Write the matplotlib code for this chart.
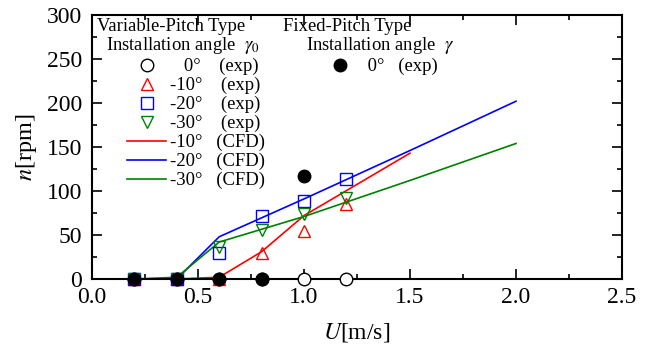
import matplotlib
matplotlib.use("Agg")
import matplotlib.pyplot as plt
from matplotlib.ticker import MultipleLocator

plt.rcParams['font.family'] = ['Liberation Serif', 'DejaVu Serif']
plt.rcParams['mathtext.fontset'] = 'stix'

# experiment, variable-pitch type (installation angle gamma_0)
U_exp = [0.2, 0.4, 0.6, 0.8, 1.0, 1.2]
n_exp_0 = [0, 0, 0, 0, 0, 0]
n_exp_10 = [0, 0, 0, 30, 54, 85]
n_exp_20 = [0, 0, 29, 72, 89, 114]
n_exp_30 = [0, 0, 36, 56, 74, 92]

# experiment, fixed-pitch type (gamma = 0)
U_fix = [0.2, 0.4, 0.6, 0.8, 1.0]
n_fix_0 = [0, 0, 0, 0, 117]

# CFD results
U_cfd_10 = [0.2, 0.4, 0.6, 0.8, 1.0, 1.5]
n_cfd_10 = [0, 0, 2, 31, 72, 143]
U_cfd_20 = [0.2, 0.4, 0.6, 1.0, 1.5, 2.0]
n_cfd_20 = [0, 0, 48, 91, 146, 202]
U_cfd_30 = [0.2, 0.4, 0.6, 1.0, 1.5, 2.0]
n_cfd_30 = [0, 2, 42, 71, 112, 154]

deg_labels = ["0\u00b0", "-10\u00b0", "-20\u00b0", "-30\u00b0"]

fig = plt.figure(figsize=(6.52, 3.51), dpi=100)
ax = fig.add_axes([92/652, 1-279/351, 530/652, 264/351])

red, blue, green = '#ff0000', '#0000ff', '#008000'
lw = 1.2
ms = 9

# CFD lines
l10, = ax.plot(U_cfd_10, n_cfd_10, color=red, lw=lw, zorder=2)
l20, = ax.plot(U_cfd_20, n_cfd_20, color=blue, lw=lw, zorder=2)
l30, = ax.plot(U_cfd_30, n_cfd_30, color=green, lw=lw, zorder=2)

# experiment markers
p0, = ax.plot(U_exp, n_exp_0, 'o', ms=ms, mfc='white', mec='black', mew=1.0, ls='none', clip_on=False, zorder=3)
p10, = ax.plot(U_exp, n_exp_10, '^', ms=ms, mfc='none', mec=red, mew=1.0, ls='none', clip_on=False, zorder=3)
p20, = ax.plot(U_exp, n_exp_20, 's', ms=8, mfc='none', mec=blue, mew=1.0, ls='none', clip_on=False, zorder=3)
p30, = ax.plot(U_exp, n_exp_30, 'v', ms=ms, mfc='none', mec=green, mew=1.0, ls='none', clip_on=False, zorder=3)
pf, = ax.plot(U_fix, n_fix_0, 'o', ms=ms, mfc='black', mec='black', ls='none', clip_on=False, zorder=4)

ax.set_xlim(0, 2.5)
ax.set_ylim(0, 300)
ax.xaxis.set_major_locator(MultipleLocator(0.5))
ax.xaxis.set_minor_locator(MultipleLocator(0.25))
ax.yaxis.set_major_locator(MultipleLocator(50))
ax.yaxis.set_minor_locator(MultipleLocator(25))
ax.xaxis.set_major_formatter(matplotlib.ticker.FormatStrFormatter('%.1f'))
ax.tick_params(which='both', direction='in', top=True, right=True, width=1.2, labelsize=17)
ax.tick_params(which='major', length=7)
ax.tick_params(which='minor', length=3.6)
ax.tick_params(axis='y', pad=7)
ax.tick_params(axis='x', pad=6)
for s in ax.spines.values():
    s.set_linewidth(1.5)

ax.set_xlabel("$U$[m/s]", fontsize=17, labelpad=9)
ax.set_ylabel("$n$[rpm]", fontsize=17.5, labelpad=6)

fs = 13.4
ax.text(0.009, 0.955, "Variable-Pitch Type", transform=ax.transAxes, fontsize=fs, va='center', ha='left')
ax.text(0.026, 0.886, "Installation angle  $\\gamma_{\\mathit{0}}$", transform=ax.transAxes, fontsize=fs, va='center', ha='left')
ax.text(0.360, 0.955, "Fixed-Pitch Type", transform=ax.transAxes, fontsize=fs, va='center', ha='left')
ax.text(0.404, 0.886, "Installation angle  $\\gamma$", transform=ax.transAxes, fontsize=fs, va='center', ha='left')

exp_pad = "    (exp)"
cfd_pad = "   (CFD)"
labels = ["   " + deg_labels[0] + exp_pad,
          deg_labels[1] + exp_pad, deg_labels[2] + exp_pad, deg_labels[3] + exp_pad,
          deg_labels[1] + cfd_pad, deg_labels[2] + cfd_pad, deg_labels[3] + cfd_pad]
leg1 = ax.legend([p0, p10, p20, p30, l10, l20, l30], labels, loc='upper left',
                 bbox_to_anchor=((127-92)/530, (279-58)/264), frameon=False, fontsize=fs,
                 handlelength=2.1, handletextpad=0.22, labelspacing=0.09,
                 borderpad=0, borderaxespad=0, numpoints=1)
ax.add_artist(leg1)
ax.legend([pf], [" " + deg_labels[0] + "   (exp)"], loc='upper left',
          bbox_to_anchor=((320-92)/530, (279-58)/264), frameon=False, fontsize=fs,
          handlelength=2.1, handletextpad=0.22, borderpad=0, borderaxespad=0, numpoints=1)

fig.savefig("out.png", dpi=100)
